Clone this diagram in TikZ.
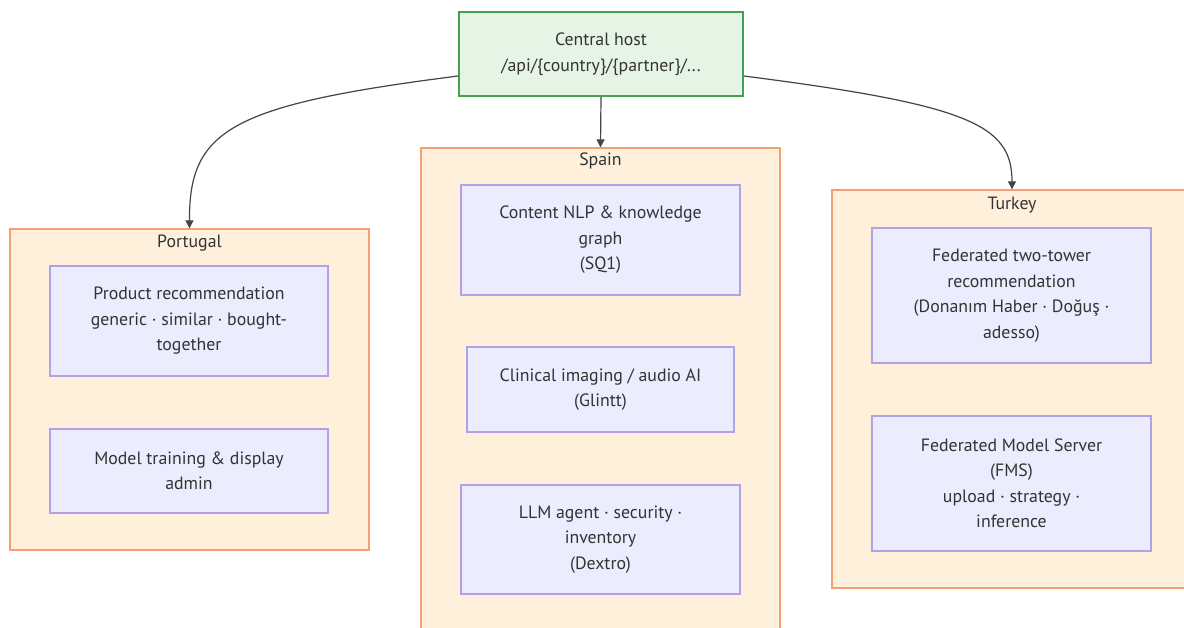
\documentclass[tikz,border=0pt]{standalone}
\usepackage{fontspec}
\setmainfont{PT Sans}
\usetikzlibrary{arrows.meta}
\definecolor{grpfill}{HTML}{FFF0DC}
\definecolor{grpdraw}{HTML}{F4A070}
\definecolor{nodefill}{HTML}{ECECFF}
\definecolor{nodedraw}{HTML}{B4A0E6}
\definecolor{hostfill}{HTML}{E6F4E6}
\definecolor{hostdraw}{HTML}{45A152}
\definecolor{txt}{HTML}{333333}
\definecolor{edge}{HTML}{444444}
\tikzset{
  grp/.style={draw=grpdraw, fill=grpfill, line width=1.3pt, rectangle, inner sep=0pt},
  grplabel/.style={text=txt, font=\fontsize{17.8}{20}\selectfont, inner sep=0pt},
  inbox/.style={draw=nodedraw, fill=nodefill, line width=1.3pt, rectangle, align=center, text=txt,
    font=\fontsize{17.8}{25.5}\selectfont, inner sep=0pt},
  hostbox/.style={draw=hostdraw, fill=hostfill, line width=1.6pt, rectangle, align=center, text=txt,
    font=\fontsize{17.8}{25.5}\selectfont, inner sep=0pt},
  conn/.style={draw=edge, line width=1.2pt, -{Triangle[length=8pt,width=8pt]}}
}
\begin{document}
\begin{tikzpicture}[x=1pt,y=-1pt]
\clip (0,0) rectangle (1184,628);
\fill[white] (0,0) rectangle (1184,628);
% groups
\node[grp, minimum width=359pt, minimum height=321pt] (pt) at (189.5,389.5) {};
\node[grp, minimum width=359pt, minimum height=520pt] (es) at (600.5,408) {};
\node[grp, minimum width=380pt, minimum height=398pt] (tr) at (1022,389) {};
\node[grplabel] (ptl) at (189.5,243) {Portugal};
\node[grplabel] (esl) at (600.5,161) {Spain};
\node[grplabel] (trl) at (1012,205) {Turkey};
% host
\node[hostbox, minimum width=284pt, minimum height=84pt] (host) at (601,54) {Central host\\/api/\{country\}/\{partner\}/...};
% Portugal
\node[inbox, minimum width=278pt, minimum height=110pt] (pr) at (189,321) {Product recommendation\\generic · similar · bought-\\together};
\node[inbox, minimum width=278pt, minimum height=84pt] (mt) at (189,471) {Model training \& display\\admin};
% Spain
\node[inbox, minimum width=279pt, minimum height=110pt] (nlp) at (600.5,240) {Content NLP \& knowledge\\graph\\(SQ1)};
\node[inbox, minimum width=267pt, minimum height=85pt] (cl) at (600.5,389.5) {Clinical imaging / audio AI\\(Glintt)};
\node[inbox, minimum width=279pt, minimum height=109pt] (llm) at (600.5,539.5) {LLM agent · security ·\\inventory\\(Dextro)};
% Turkey
\node[inbox, minimum width=279pt, minimum height=135pt] (tt) at (1011.5,295.5) {Federated two-tower\\recommendation\\(Donanım Haber · Doğuş ·\\adesso)};
\node[inbox, minimum width=279pt, minimum height=135pt] (fms) at (1011.5,483.5) {Federated Model Server\\(FMS)\\upload · strategy ·\\inference};
% connectors
\draw[conn] (host.south) -- (es.north);
\draw[conn] ([yshift=-22pt]host.west) .. controls (230,105) and (189,130) .. (pt.north);
\draw[conn] ([yshift=-22pt]host.east) .. controls (970,105) and (1012,125) .. ([xshift=-10pt]tr.north);
\end{tikzpicture}
\end{document}
